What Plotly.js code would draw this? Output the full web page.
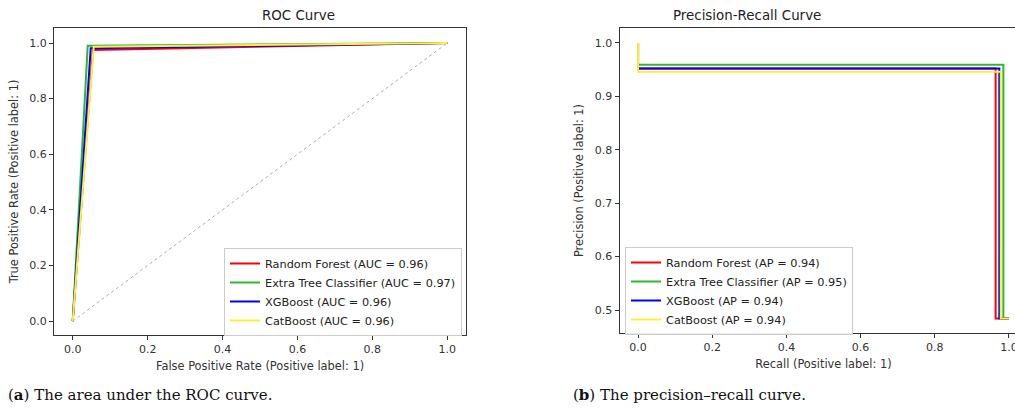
<!DOCTYPE html>
<html><head><meta charset="utf-8">
<script src="https://cdn.plot.ly/plotly-3.0.1.min.js"></script>
<style>html,body{margin:0;padding:0;overflow:hidden;background:#fff}#plot{width:1030px;height:409px}</style>
</head><body><div id="plot"></div>
<script>
// ---- data ----
const models = ["Random Forest", "Extra Tree Classifier", "XGBoost", "CatBoost"];
const colors = ["#ff0000", "#2db82d", "#0000ff", "#fff033"];
const rocAuc = [0.96, 0.97, 0.96, 0.96];
const rocFpr = [[0, 0.054, 1], [0, 0.040, 1], [0, 0.048, 1], [0, 0.056, 1]];
const rocTpr = [[0, 0.975, 1], [0, 0.990, 1], [0, 0.981, 1], [0, 0.987, 1]];
const apValues = [0.94, 0.95, 0.94, 0.94];
const prRecall = [[1, 0.964, 0], [1, 0.985, 0], [1, 0.974, 0], [1, 0.978, 0]];
const prPrecision = [[0.484, 0.952, 1], [0.484, 0.959, 1], [0.484, 0.952, 1], [0.484, 0.946, 1]];
const chanceX = [0, 1];
const chanceY = [0, 1];

const W = 1030, H = 409;
const traces = [];
traces.push({x: chanceX, y: chanceY, mode: "lines", line: {color: "#999", width: 0.8, dash: "dot"},
  showlegend: false, xaxis: "x", yaxis: "y", hoverinfo: "skip"});
models.forEach((m, i) => {
  traces.push({x: rocFpr[i], y: rocTpr[i], mode: "lines", name: m + " (AUC = " + rocAuc[i].toFixed(2) + ")",
    line: {color: colors[i], width: 2}, xaxis: "x", yaxis: "y", legend: "legend"});
});
models.forEach((m, i) => {
  traces.push({x: prRecall[i], y: prPrecision[i], mode: "lines", name: m + " (AP = " + apValues[i].toFixed(2) + ")",
    line: {color: colors[i], width: 2, shape: "hv"}, xaxis: "x2", yaxis: "y2", legend: "legend2"});
});

const axBase = {showline: true, mirror: true, linecolor: "#333", linewidth: 1, ticks: "outside", ticklen: 4,
  tickcolor: "#333", showgrid: false, zeroline: false, tickformat: ".1f",
  tickfont: {family: "DejaVu Sans", size: 11, color: "#333"}};
const ttl = (t) => ({text: t, font: {family: "DejaVu Sans", size: 11.4, color: "#333"}});
const legBase = {bgcolor: "rgba(255,255,255,0.9)", bordercolor: "#ccc", borderwidth: 1,
  font: {family: "DejaVu Sans", size: 11.3, color: "#222"}, xanchor: "left", yanchor: "top", itemwidth: 30};

const layout = {
  width: W, height: H, margin: {l: 0, r: 0, t: 0, b: 0},
  paper_bgcolor: "#fff", plot_bgcolor: "#fff", showlegend: true,
  xaxis: Object.assign({}, axBase, {domain: [54 / W, 466 / W], range: [-0.05, 1.05], dtick: 0.2, anchor: "y",
    title: Object.assign(ttl("False Positive Rate (Positive label: 1)"), {standoff: 6})}),
  yaxis: Object.assign({}, axBase, {domain: [1 - 335 / H, 1 - 28 / H], range: [-0.05, 1.054], dtick: 0.2, anchor: "x",
    title: Object.assign(ttl("True Positive Rate (Positive label: 1)"), {standoff: 8})}),
  xaxis2: Object.assign({}, axBase, {domain: [619.5 / W, 1027.5 / W], range: [-0.05, 1.05], dtick: 0.2, anchor: "y2",
    title: Object.assign(ttl("Recall (Positive label: 1)"), {standoff: 6})}),
  yaxis2: Object.assign({}, axBase, {domain: [1 - 333 / H, 1 - 28 / H], range: [0.457, 1.028], dtick: 0.1, anchor: "x2",
    title: Object.assign(ttl("Precision (Positive label: 1)"), {standoff: 8})}),
  legend: Object.assign({}, legBase, {x: 224 / W, y: 1 - 248 / H}),
  legend2: Object.assign({}, legBase, {x: 625 / W, y: 1 - 247 / H}),
  annotations: [
    {text: "ROC Curve", xref: "paper", yref: "paper", x: 260 / W, y: 1 - 16 / H, yanchor: "middle", showarrow: false,
      font: {family: "DejaVu Sans", size: 13.4, color: "#222"}},
    {text: "Precision-Recall Curve", xref: "paper", yref: "paper", x: 823 / W, y: 1 - 16 / H, yanchor: "middle", showarrow: false,
      font: {family: "DejaVu Sans", size: 13.4, color: "#222"}},
    {text: "(<b>a</b>) The area under the ROC curve.", xref: "paper", yref: "paper", x: 6 / W, y: 1 - 395 / H,
      xanchor: "left", yanchor: "middle", showarrow: false, font: {family: "DejaVu Serif", size: 15, color: "#111"}},
    {text: "(<b>b</b>) The precision\u2013recall curve.", xref: "paper", yref: "paper", x: 571 / W, y: 1 - 395 / H,
      xanchor: "left", yanchor: "middle", showarrow: false, font: {family: "DejaVu Serif", size: 15, color: "#111"}}
  ]
};
Plotly.newPlot("plot", traces, layout, {displayModeBar: false, staticPlot: true});
</script></body></html>
